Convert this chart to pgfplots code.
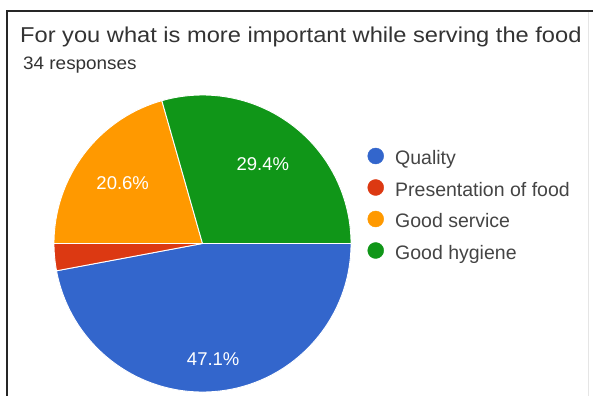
\documentclass[border=0pt]{standalone}
\usepackage{pgfplots}
\pgfplotsset{compat=1.18}
\usepackage{pgfplotstable}
\usepackage{fontspec}
\setmainfont{Liberation Sans}
\newfontfamily\titlefont[FakeStretch=1.1]{Liberation Sans}
\newfontfamily\subfont[FakeStretch=1.05]{Liberation Sans}
\definecolor{qblue}{HTML}{3366CC}
\definecolor{qred}{HTML}{DC3912}
\definecolor{qorange}{HTML}{FF9900}
\definecolor{qgreen}{HTML}{109618}
\definecolor{titlegray}{HTML}{333333}
\definecolor{leggray}{HTML}{444444}

\pgfplotstableread{
idx count
0 16
1 1
2 7
3 10
}\piedata

\begin{document}
\begin{tikzpicture}
\path[use as bounding box] (0,0) rectangle (593pt,396pt);
% slice angles from the counts (clockwise from 3 o'clock)
\pgfplotstablegetelem{0}{count}\of\piedata \pgfmathsetmacro\cA{\pgfplotsretval}
\pgfplotstablegetelem{1}{count}\of\piedata \pgfmathsetmacro\cB{\pgfplotsretval}
\pgfplotstablegetelem{2}{count}\of\piedata \pgfmathsetmacro\cC{\pgfplotsretval}
\pgfplotstablegetelem{3}{count}\of\piedata \pgfmathsetmacro\cD{\pgfplotsretval}
\pgfmathsetmacro\tot{\cA+\cB+\cC+\cD}
\pgfmathsetmacro\aA{0}
\pgfmathsetmacro\aB{-360*\cA/\tot}
\pgfmathsetmacro\aC{-360*(\cA+\cB)/\tot}
\pgfmathsetmacro\aD{-360*(\cA+\cB+\cC)/\tot}
\pgfmathsetmacro\aE{-360}
\pgfmathsetmacro\mA{(\aA+\aB)/2}
\pgfmathsetmacro\mC{(\aC+\aD)/2}
\pgfmathsetmacro\mD{(\aD+\aE)/2}
\begin{axis}[
  at={(0,0)}, anchor=south west,
  width=593pt, height=396pt, scale only axis,
  xmin=0, xmax=593, ymin=0, ymax=396,
  hide axis, clip=false,
]
% frame of the screenshot
\draw[color=black!85, line width=1.4pt] (axis cs:7,385) -- (axis cs:593,385);
\draw[color=black!85, line width=1.4pt] (axis cs:7,385.7) -- (axis cs:7,0);
\draw[color=black!10, line width=0.8pt] (axis cs:588,384) -- (axis cs:588,0);
% pie slices
\filldraw[fill=qblue, draw=white, line width=0.9pt] (axis cs:202.5,152.5) -- ++(\aA:148.5pt) arc[start angle=\aA, end angle=\aB, radius=148.5pt] -- cycle;
\filldraw[fill=qred, draw=white, line width=0.9pt] (axis cs:202.5,152.5) -- ++(\aB:148.5pt) arc[start angle=\aB, end angle=\aC, radius=148.5pt] -- cycle;
\filldraw[fill=qorange, draw=white, line width=0.9pt] (axis cs:202.5,152.5) -- ++(\aC:148.5pt) arc[start angle=\aC, end angle=\aD, radius=148.5pt] -- cycle;
\filldraw[fill=qgreen, draw=white, line width=0.9pt] (axis cs:202.5,152.5) -- ++(\aD:148.5pt) arc[start angle=\aD, end angle=\aE, radius=148.5pt] -- cycle;
% slice labels
\path (axis cs:202.5,152.5) ++(\mA:116pt) node[text=white, font=\fontsize{18.5}{22}\selectfont, inner sep=0pt] {47.1\%};
\path (axis cs:202.5,152.5) ++(\mC:100pt) node[text=white, font=\fontsize{18.5}{22}\selectfont, inner sep=0pt] {20.6\%};
\path (axis cs:202.5,152.5) ++(\mD:100pt) node[text=white, font=\fontsize{18.5}{22}\selectfont, inner sep=0pt] {29.4\%};
% legend markers
\addplot[only marks, mark=*, mark size=8pt, color=qblue] coordinates {(375.7,240)};
\addplot[only marks, mark=*, mark size=8pt, color=qred] coordinates {(375.7,208.5)};
\addplot[only marks, mark=*, mark size=8pt, color=qorange] coordinates {(375.7,177)};
\addplot[only marks, mark=*, mark size=8pt, color=qgreen] coordinates {(375.7,145.5)};
% legend texts
\node[anchor=base west, inner sep=0pt, text=leggray, font=\fontsize{19.5}{23}\selectfont] at (axis cs:395,231) {Quality};
\node[anchor=base west, inner sep=0pt, text=leggray, font=\fontsize{19.5}{23}\selectfont] at (axis cs:395,199.5) {Presentation of food};
\node[anchor=base west, inner sep=0pt, text=leggray, font=\fontsize{19.5}{23}\selectfont] at (axis cs:395,168) {Good service};
\node[anchor=base west, inner sep=0pt, text=leggray, font=\fontsize{19.5}{23}\selectfont] at (axis cs:395,136.5) {Good hygiene};
% title
\node[anchor=base west, inner sep=0pt, text=titlegray, font=\titlefont\fontsize{21.5}{26}\selectfont] at (axis cs:20,353.3) {For you what is more important while serving the food};
\node[anchor=base west, inner sep=0pt, text=titlegray, font=\subfont\fontsize{18}{22}\selectfont] at (axis cs:23,326) {34 responses};
\end{axis}
\end{tikzpicture}
\end{document}
